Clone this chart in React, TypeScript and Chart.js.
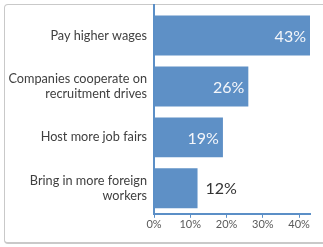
import React, { useEffect, useRef } from "react";
import { Chart, registerables } from "chart.js";

Chart.register(...registerables);

const categories: (string | string[])[] = [
  "Pay higher wages",
  ["Companies cooperate on", "recruitment drives"],
  "Host more job fairs",
  ["Bring in more foreign", "workers"],
];
const values = [43, 26, 19, 12];
const tickValues = [0, 10, 20, 30, 40];

const BAR = "#5e90c6";
const AXIS = "#5b8fc7";

const labelPlugin = {
  id: "valueLabels",
  afterDatasetsDraw(chart: any) {
    const ctx = chart.ctx;
    const meta = chart.getDatasetMeta(0);
    ctx.save();
    ctx.font = "16px Lato";
    ctx.textBaseline = "middle";
    meta.data.forEach((bar: any, i: number) => {
      const txt = values[i] + "%";
      const w = bar.x - bar.base;
      if (w > 60) {
        ctx.fillStyle = "#f4f6fa";
        ctx.textAlign = "right";
        ctx.fillText(txt, bar.x - 4, bar.y + 1);
      } else {
        ctx.fillStyle = "#333333";
        ctx.textAlign = "left";
        ctx.fillText(txt, bar.x + 8, bar.y + 1);
      }
    });
    ctx.restore();
  },
};

const axisLinePlugin = {
  id: "axisLine",
  afterDraw(chart: any) {
    const { ctx, chartArea } = chart;
    ctx.save();
    ctx.strokeStyle = AXIS;
    ctx.lineWidth = 2;
    ctx.beginPath();
    ctx.moveTo(chartArea.left, 4);
    ctx.lineTo(chartArea.left, chartArea.bottom);
    ctx.stroke();
    ctx.restore();
  },
};

export default function App() {
  const ref = useRef<HTMLCanvasElement | null>(null);
  useEffect(() => {
    document.body.style.margin = "0";
    const chart = new Chart(ref.current!, {
      type: "bar",
      data: {
        labels: categories,
        datasets: [
          {
            data: values,
            backgroundColor: BAR,
            borderWidth: 0,
            categoryPercentage: 0.785,
            barPercentage: 1,
          },
        ],
      },
      options: {
        indexAxis: "y",
        animation: false,
        responsive: false,
        maintainAspectRatio: false,
        layout: { padding: { left: 0, right: 13, top: 10, bottom: 16 } },
        plugins: { legend: { display: false }, tooltip: { enabled: false } },
        scales: {
          x: {
            min: 0,
            max: 43,
            afterBuildTicks(scale: any) {
              scale.ticks = tickValues.map((v) => ({ value: v }));
            },
            afterFit(scale: any) {
              scale.paddingLeft = 0;
              scale.paddingRight = 0;
            },
            ticks: {
              callback: (v: any) => v + "%",
              font: { family: "Lato", size: 11 },
              color: "#5a5a5a",
              padding: 0,
              maxRotation: 0,
            },
            grid: {
              drawOnChartArea: false,
              drawTicks: true,
              tickLength: 4,
              color: AXIS,
            },
            border: { display: true, color: AXIS, width: 2 },
          },
          y: {
            afterFit(scale: any) {
              scale.width = 154;
              scale.paddingTop = 0;
              scale.paddingBottom = 0;
            },
            ticks: {
              font: { family: "Lato", size: 12.7, lineHeight: 1.2 },
              color: "#404040",
              padding: 7,
            },
            grid: { display: false, drawTicks: false },
            border: { display: false },
          },
        },
      },
      plugins: [labelPlugin, axisLinePlugin],
    });
    return () => chart.destroy();
  }, []);
  return (
    <div style={{ position: "relative", width: 323, height: 247, overflow: "hidden", background: "#fff" }}>
      <div
        style={{
          position: "absolute",
          left: 4,
          top: 4,
          width: 330,
          height: 240,
          boxSizing: "border-box",
          border: "1px solid #c9c9c9",
          borderBottom: "2px solid #c9c9c9",
          borderRadius: 4,
        }}
      />
      <canvas ref={ref} width={323} height={247} style={{ position: "absolute", left: 0, top: 0 }} />
    </div>
  );
}
